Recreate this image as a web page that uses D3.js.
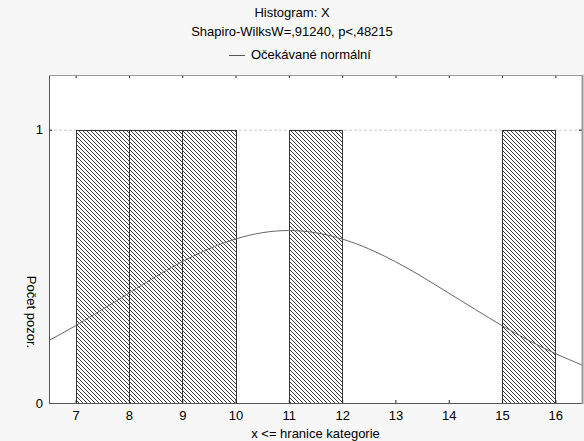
<!DOCTYPE html>
<html>
<head>
<meta charset="utf-8">
<script src="https://cdn.jsdelivr.net/npm/d3@7"></script>
<style>
  html, body { margin: 0; padding: 0; background: #f7f7f7; }
  svg { display: block; font-family: "Liberation Sans", Arial, sans-serif; }
</style>
</head>
<body>
<svg id="chart" width="584" height="441"></svg>
<script>
// Histogram bins (upper bound of each bin) and counts
const binUpper = [8, 9, 10, 11, 12, 13, 14, 15, 16];
const counts   = [1, 1, 1, 0, 1, 0, 0, 0, 1];
// Expected normal curve, sampled at half steps
const curveX = [6.5, 7, 7.5, 8, 8.5, 9, 9.5, 10, 10.5, 11, 11.5, 12, 12.5, 13, 13.5, 14, 14.5, 15, 15.5, 16, 16.5];
const curveY = [0.229, 0.283, 0.342, 0.402, 0.462, 0.517, 0.564, 0.600, 0.623, 0.631, 0.623, 0.600, 0.564, 0.517, 0.462, 0.402, 0.342, 0.283, 0.229, 0.181, 0.139];
const xTicks = [7, 8, 9, 10, 11, 12, 13, 14, 15, 16];
const yTicks = [0, 1];
const titleText = "Histogram: X";
const subtitleText = "Shapiro-WilksW=,91240, p<,48215";
const legendText = "Očekávané normální";
const xLabel = "x <= hranice kategorie";
const yLabel = "Počet pozor.";

const svg = d3.select("#chart");
const m = { left: 49, right: 582, top: 75, bottom: 403 };
const FS = 13;

const x = d3.scaleLinear().domain([6.5, 16.5]).range([m.left, m.right]);
const y = d3.scaleLinear().domain([0, 1.2]).range([m.bottom, m.top]);

// Hatch pattern for bars
const defs = svg.append("defs");
const pat = defs.append("pattern")
  .attr("id", "hatch").attr("patternUnits", "userSpaceOnUse")
  .attr("width", 4).attr("height", 4);
pat.append("rect").attr("width", 4).attr("height", 4).attr("fill", "#fff");
pat.append("path")
  .attr("d", "M0,0 L4,4 M-1,3 L1,5 M3,-1 L5,1")
  .attr("stroke", "#222").attr("stroke-width", 0.9);

// Plot area
svg.append("rect")
  .attr("x", m.left).attr("y", m.top)
  .attr("width", m.right - m.left).attr("height", m.bottom - m.top)
  .attr("fill", "#fff");

// Grid line at 1
svg.append("g").selectAll("line")
  .data(yTicks.filter(d => d > 0))
  .join("line")
  .attr("x1", m.left).attr("x2", m.right)
  .attr("y1", d => y(d) + 0.5).attr("y2", d => y(d) + 0.5)
  .attr("stroke", "#c8c8c8").attr("stroke-dasharray", "3,2");

// Bars
const bins = binUpper.map((u, i) => ({ x0: u - 1, x1: u, n: counts[i] })).filter(d => d.n > 0);
svg.append("g").selectAll("rect")
  .data(bins)
  .join("rect")
  .attr("x", d => Math.round(x(d.x0)) + 0.5)
  .attr("y", d => Math.round(y(d.n)) + 0.5)
  .attr("width", d => Math.round(x(d.x1)) - Math.round(x(d.x0)))
  .attr("height", d => Math.round(y(0)) - Math.round(y(d.n)))
  .attr("fill", "url(#hatch)")
  .attr("stroke", "#333").attr("stroke-width", 1);

// Expected normal curve
const line = d3.line()
  .x((d, i) => x(curveX[i]))
  .y(d => y(d))
  .curve(d3.curveNatural);
svg.append("path")
  .attr("d", line(curveY))
  .attr("fill", "none")
  .attr("stroke", "#666").attr("stroke-width", 1);

// Axes
const xAxis = svg.append("g")
  .attr("transform", `translate(0,${m.bottom})`)
  .call(d3.axisBottom(x).tickValues(xTicks).tickSize(-3).tickPadding(8).tickFormat(d3.format("d")));
const xTop = svg.append("g")
  .attr("transform", `translate(0,${m.top})`)
  .call(d3.axisTop(x).tickValues(xTicks).tickSize(-3).tickFormat(""));
const yAxis = svg.append("g")
  .attr("transform", `translate(${m.left},0)`)
  .call(d3.axisLeft(y).tickValues(yTicks).tickSize(-3).tickPadding(6).tickFormat(d3.format("d")));
const yRight = svg.append("g")
  .attr("transform", `translate(${m.right},0)`)
  .call(d3.axisRight(y).tickValues(yTicks).tickSize(-3).tickFormat(""));

[xAxis, xTop, yAxis, yRight].forEach(g => {
  g.select(".domain").remove();
  g.selectAll(".tick line").attr("stroke", "#222");
  g.selectAll("text").attr("font-size", FS).attr("fill", "#000")
    .attr("font-family", "'Liberation Sans', Arial, sans-serif");
});

// Frame
svg.append("line").attr("x1", m.left + 0.5).attr("x2", m.left + 0.5)
  .attr("y1", m.top).attr("y2", m.bottom + 1).attr("stroke", "#555");
svg.append("line").attr("x1", m.left).attr("x2", m.right + 1)
  .attr("y1", m.bottom + 0.5).attr("y2", m.bottom + 0.5).attr("stroke", "#555");
svg.append("line").attr("x1", m.left).attr("x2", m.right + 1)
  .attr("y1", m.top + 0.5).attr("y2", m.top + 0.5).attr("stroke", "#999");
svg.append("line").attr("x1", m.right + 0.5).attr("x2", m.right + 0.5)
  .attr("y1", m.top).attr("y2", m.bottom + 1).attr("stroke", "#999").attr("stroke-width", 2);

// Titles
svg.append("text").attr("x", 292).attr("y", 17).attr("text-anchor", "middle")
  .attr("font-size", FS).text(titleText);
svg.append("text").attr("x", 292).attr("y", 36).attr("text-anchor", "middle")
  .attr("font-size", FS).text(subtitleText);

// Legend
svg.append("line").attr("x1", 229).attr("x2", 245).attr("y1", 55.5).attr("y2", 55.5)
  .attr("stroke", "#555");
svg.append("text").attr("x", 251).attr("y", 59).attr("font-size", FS).text(legendText);

// Axis titles
svg.append("text").attr("x", (m.left + m.right) / 2).attr("y", 438)
  .attr("text-anchor", "middle").attr("font-size", FS).text(xLabel);
svg.append("text")
  .attr("transform", `translate(27,${(m.top + m.bottom) / 2 + 73}) rotate(90)`)
  .attr("text-anchor", "middle").attr("font-size", FS).text(yLabel);
</script>
</body>
</html>
